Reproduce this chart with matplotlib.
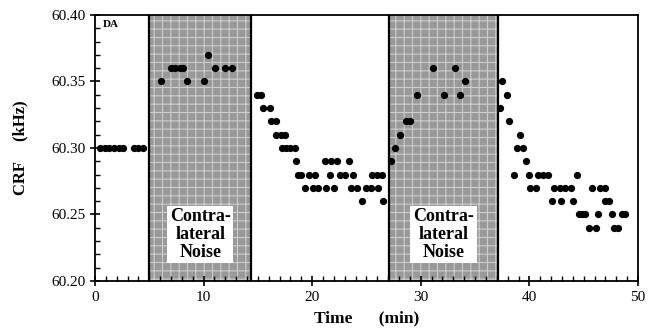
import matplotlib
matplotlib.use("Agg")
import matplotlib.pyplot as plt
from matplotlib.ticker import MultipleLocator, FormatStrFormatter

plt.rcParams['font.family'] = ['Liberation Serif', 'DejaVu Serif']
plt.rcParams['hatch.linewidth'] = 0.8

# --- data (time in min, CRF in kHz) ---
baseline_t = [0.45, 0.9, 1.3, 1.75, 2.2, 2.6, 3.55, 4.0, 4.45]
baseline_f = [60.30] * 9

noise1_t = [6.1, 7.0, 7.4, 7.8, 8.15, 8.5, 10.0, 10.45, 11.05, 11.95, 12.6]
noise1_f = [60.35, 60.36, 60.36, 60.36, 60.36, 60.35, 60.35, 60.37, 60.36, 60.36, 60.36]

post1_t = [14.95, 15.3, 15.45, 16.1, 16.25, 16.65, 16.7, 17.1, 17.5, 17.2, 17.6, 18.0,
           18.4, 18.5, 18.7, 19.0, 19.35, 19.75, 20.05, 20.3, 20.55, 21.15, 21.3, 21.6,
           21.75, 22.05, 22.3, 22.55, 23.05, 23.35, 23.55, 23.8, 24.1, 24.6, 25.0, 25.4,
           25.5, 25.95, 26.1, 26.4, 26.55]
post1_f = [60.34, 60.34, 60.33, 60.33, 60.32, 60.32, 60.31, 60.31, 60.31, 60.30, 60.30, 60.30,
           60.30, 60.29, 60.28, 60.28, 60.27, 60.28, 60.27, 60.28, 60.27, 60.29, 60.27, 60.28,
           60.29, 60.27, 60.29, 60.28, 60.28, 60.29, 60.27, 60.28, 60.27, 60.26, 60.27, 60.27,
           60.28, 60.28, 60.27, 60.28, 60.26]

noise2_t = [27.3, 27.65, 28.1, 28.6, 29.05, 29.65, 31.1, 32.1, 33.15, 33.6, 34.05]
noise2_f = [60.29, 60.30, 60.31, 60.32, 60.32, 60.34, 60.36, 60.34, 60.36, 60.34, 60.35]

post2_t = [37.3, 37.5, 37.9, 38.1, 38.6, 38.85, 39.1, 39.45, 39.7, 39.95, 40.1, 40.6,
           40.8, 41.25, 41.7, 42.1, 42.3, 42.8, 42.9, 43.3, 43.8, 44.05, 44.4, 44.55,
           44.85, 45.15, 45.5, 45.8, 46.1, 46.35, 46.55, 47.0, 47.0, 47.35, 47.6, 47.75,
           48.15, 48.5, 48.85]
post2_f = [60.33, 60.35, 60.34, 60.32, 60.28, 60.30, 60.31, 60.30, 60.29, 60.28, 60.27, 60.27,
           60.28, 60.28, 60.28, 60.26, 60.27, 60.27, 60.26, 60.27, 60.27, 60.26, 60.28, 60.25,
           60.25, 60.25, 60.24, 60.27, 60.24, 60.25, 60.27, 60.27, 60.26, 60.26, 60.25, 60.24,
           60.24, 60.25, 60.25]

noise_periods = [(5.0, 14.4), (27.05, 37.15)]
noise_label = "Contra-\nlateral\nNoise"

# --- figure ---
fig = plt.figure(figsize=(6.56, 3.28), dpi=100)
ax = fig.add_axes([0.1448, 0.1433, 0.8277, 0.811])

for start, end in noise_periods:
    # halftone-ish grey with a lighter grid, like the printed shading
    ax.axvspan(start, end, facecolor='#999999', edgecolor='#cdcdcd',
               hatch='++', linewidth=0, zorder=0)
    ax.axvline(start, color='black', lw=1.6, zorder=1)
    ax.axvline(end, color='black', lw=1.6, zorder=1)
    ax.text((start + end) / 2, 60.235, noise_label, ha='center', va='center',
            fontsize=13, fontweight='bold', linespacing=1.05, zorder=3,
            bbox=dict(boxstyle='square,pad=0.15', facecolor='white', edgecolor='none'))

for t, f in [(baseline_t, baseline_f), (noise1_t, noise1_f), (post1_t, post1_f),
             (noise2_t, noise2_f), (post2_t, post2_f)]:
    ax.plot(t, f, 'o', color='black', markersize=4.2, zorder=4, linestyle='none')

ax.text(0.75, 60.3925, "DA", ha='left', va='center', fontsize=8, fontweight='bold')

ax.set_xlim(0, 50)
ax.set_ylim(60.20, 60.40)
ax.xaxis.set_major_locator(MultipleLocator(10))
ax.xaxis.set_minor_locator(MultipleLocator(1))
ax.yaxis.set_major_locator(MultipleLocator(0.05))
ax.yaxis.set_minor_locator(MultipleLocator(0.01))
ax.yaxis.set_major_formatter(FormatStrFormatter('%.2f'))

ax.tick_params(which='major', direction='inout', length=7, width=1.2, labelsize=11)
ax.tick_params(which='minor', direction='in', length=3.5, width=1.0)
ax.tick_params(axis='x', which='major', pad=4)
for s in ax.spines.values():
    s.set_linewidth(1.3)

ax.text(0.5, -0.14, "Time      (min)", transform=ax.transAxes, ha='center', va='center',
        fontsize=12.5, fontweight='bold')
ax.text(-0.138, 0.5, "CRF     (kHz)", transform=ax.transAxes, ha='center', va='center',
        rotation=90, fontsize=12, fontweight='bold')

fig.savefig("out.png", dpi=100)
